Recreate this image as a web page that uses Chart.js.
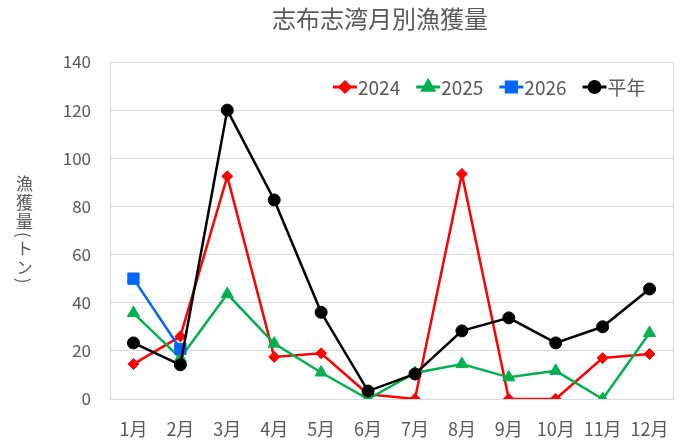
<!DOCTYPE html>
<html>
<head>
<meta charset="utf-8">
<script src="https://cdn.jsdelivr.net/npm/chart.js@4"></script>
<style>
  html, body { margin: 0; padding: 0; background: #fff; }
  #wrap { position: relative; width: 688px; height: 441px; }
  #ytitle {
    position: absolute; left: 14px; top: 175px;
    writing-mode: vertical-rl;
    font-family: "Noto Sans CJK JP", "Noto Sans", sans-serif;
    font-size: 17px; line-height: 20px; letter-spacing: 2px; color: #595959;
  }
</style>
</head>
<body>
<div id="wrap">
  <canvas id="c" width="688" height="441"></canvas>
  <div id="ytitle">漁獲量(トン)</div>
</div>
<script>
const titleText = "志布志湾月別漁獲量";
const categories = ["1月","2月","3月","4月","5月","6月","7月","8月","9月","10月","11月","12月"];
const seriesNames = ["2024","2025","2026","平年"];
const values2024 = [14.5, 26, 92.5, 17.5, 19, 2, 0, 93.5, 0, 0, 17, 18.7];
const values2025 = [35.7, 17, 43.6, 23, 11, 0, 10.8, 14.5, 9, 11.7, 0, 27.4];
const values2026 = [50, 20.8, null, null, null, null, null, null, null, null, null, null];
const valuesAvg  = [23.3, 14.2, 120, 82.7, 36, 3.3, 10.4, 28.3, 33.7, 23.3, 30, 45.7];
const yTicks = [0, 20, 40, 60, 80, 100, 120, 140];

const FONT = '"Noto Sans CJK JP", "Noto Sans", sans-serif';
const TXT = '#595959';

const styles = [
  {color: '#ff0000', style: 'rectRot', r: 5.5, values: values2024, order: 3},
  {color: '#00b050', style: 'triangle', r: 7, values: values2025, order: 2},
  {color: '#0066ff', style: 'rect', r: 8, values: values2026, order: 1},
  {color: '#000000', style: 'circle', r: 6, values: valuesAvg, order: 0}
];

const datasets = styles.map((s, i) => ({
  label: seriesNames[i],
  data: s.values,
  borderColor: s.color,
  backgroundColor: s.color,
  borderWidth: 2.5,
  pointStyle: s.style,
  pointRadius: s.r,
  pointHoverRadius: s.r,
  pointBorderWidth: 1,
  pointBorderColor: s.color,
  pointBackgroundColor: s.color,
  tension: 0,
  order: s.order
}));

const decorPlugin = {
  id: 'decor',
  beforeDatasetsDraw(chart) {
    const a = chart.chartArea, ctx = chart.ctx;
    ctx.save();
    ctx.strokeStyle = '#d9d9d9'; ctx.lineWidth = 1;
    ctx.beginPath();
    ctx.moveTo(Math.round(a.right) + 0.5, a.top);
    ctx.lineTo(Math.round(a.right) + 0.5, a.bottom);
    ctx.stroke();
    ctx.restore();
  },
  afterDraw(chart) {
    const ctx = chart.ctx, a = chart.chartArea;
    ctx.save();
    // title
    ctx.fillStyle = TXT;
    ctx.font = '24px ' + FONT;
    ctx.textAlign = 'center';
    ctx.textBaseline = 'middle';
    ctx.fillText(titleText, 380, 19);
    // legend
    ctx.font = '19px ' + FONT;
    ctx.textAlign = 'left';
    const iconW = 24, gapText = 1, gapItem = 16;
    let x = a.left + 223;
    const y = a.top + 25;
    chart.data.datasets.forEach((d, i) => {
      const s = styles[i];
      const w = ctx.measureText(d.label).width;
      ctx.strokeStyle = s.color; ctx.lineWidth = 3;
      ctx.beginPath(); ctx.moveTo(x, y); ctx.lineTo(x + iconW, y); ctx.stroke();
      ctx.fillStyle = s.color;
      Chart.helpers.drawPoint(ctx, {pointStyle: s.style, radius: s.r * 0.9, borderWidth: 1, rotation: 0}, x + iconW / 2, y);
      ctx.fill();
      ctx.fillStyle = TXT;
      ctx.fillText(d.label, x + iconW + gapText, y + 1);
      x += iconW + gapText + w + gapItem;
    });
    ctx.restore();
  }
};

const chart = new Chart(document.getElementById('c'), {
  type: 'line',
  data: { labels: categories, datasets },
  plugins: [decorPlugin],
  options: {
    responsive: false,
    animation: false,
    layout: { padding: { left: 0, right: 11, top: 62, bottom: 0 } },
    plugins: {
      title: { display: false },
      legend: { display: false },
      tooltip: { enabled: false }
    },
    scales: {
      x: {
        offset: true,
        grid: { display: false, drawTicks: false, offset: true },
        border: { display: true, color: '#d9d9d9', width: 1 },
        ticks: { color: TXT, font: { family: FONT, size: 18 }, padding: 19, maxRotation: 0, autoSkip: false },
        afterFit(s) { s.height = 42; }
      },
      y: {
        min: 0, max: 140,
        afterBuildTicks(s) { s.ticks = yTicks.map(v => ({ value: v })); },
        grid: { color: '#d9d9d9', lineWidth: 1, drawTicks: false },
        border: { display: true, color: '#d9d9d9', width: 1 },
        ticks: { color: TXT, font: { family: FONT, size: 17 }, padding: 19 },
        afterFit(s) { s.width = 110; }
      }
    }
  }
});
</script>
</body>
</html>
